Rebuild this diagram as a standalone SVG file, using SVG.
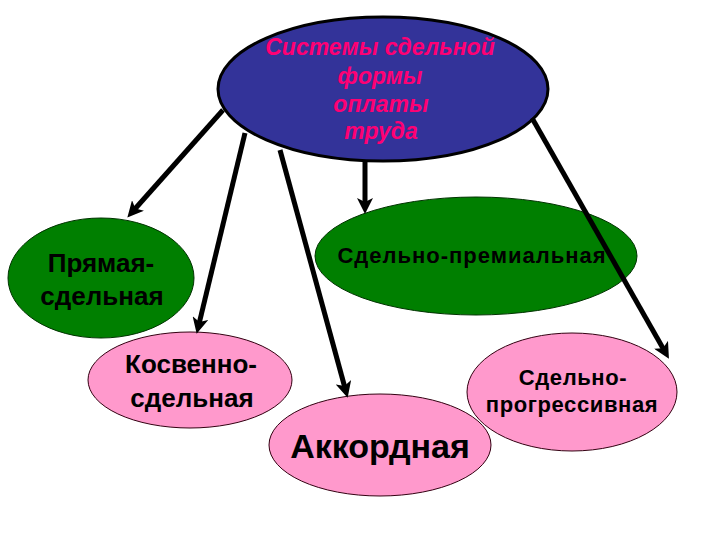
<svg xmlns="http://www.w3.org/2000/svg" width="720" height="540" viewBox="0 0 720 540">
<defs>
<style>
.t{font-family:"Liberation Sans",Arial,sans-serif;font-weight:bold;fill:#000;text-anchor:middle}
.top{font-family:"Liberation Sans",Arial,sans-serif;font-weight:bold;font-style:italic;fill:#ff0073;text-anchor:middle;font-size:23px}
.green{fill:#007f00;stroke:#003300;stroke-width:1}
.pink{fill:#ff99cc;stroke:#330011;stroke-width:1}
.conn{stroke:#000;stroke-width:5;fill:none;marker-end:url(#ah)}
</style>
<marker id="ah" markerUnits="userSpaceOnUse" markerWidth="16" markerHeight="16" refX="6" refY="8" orient="auto" viewBox="0 0 16 16">
<path d="M0,0 L16,8 L0,16 L4,8 Z" fill="#000"/>
</marker>
</defs>
<rect width="720" height="540" fill="#fff"/>
<g id="node-main">
<ellipse cx="383" cy="89" rx="165" ry="72" fill="#333399" stroke="#000" stroke-width="3"/>
<text class="top" x="380" y="55">Системы сдельной</text>
<text class="top" x="380" y="84">формы</text>
<text class="top" x="381" y="112">оплаты</text>
<text class="top" x="381" y="139">труда</text>
</g>
<g id="node-pryamaya">
<ellipse class="green" cx="101" cy="278" rx="93" ry="60"/>
<text class="t" x="101" y="272" font-size="26">Прямая-</text>
<text class="t" x="102" y="305" font-size="26">сдельная</text>
</g>
<g id="node-kosvenno">
<ellipse class="pink" cx="190" cy="380" rx="102" ry="48"/>
<text class="t" x="191" y="373" font-size="26">Косвенно-</text>
<text class="t" x="192" y="407" font-size="26">сдельная</text>
</g>
<g id="node-premialnaya">
<ellipse class="green" cx="476" cy="256" rx="161" ry="59"/>
<text class="t" x="472" y="263" font-size="22" letter-spacing="1">Сдельно-премиальная</text>
</g>
<g id="node-progressivnaya">
<ellipse class="pink" cx="572" cy="392" rx="105" ry="59"/>
<text class="t" x="573" y="385" font-size="22" letter-spacing="0.6">Сдельно-</text>
<text class="t" x="572" y="412" font-size="22" letter-spacing="0.6">прогрессивная</text>
</g>
<g id="node-akkordnaya">
<ellipse class="pink" cx="380" cy="445" rx="111" ry="51"/>
<text class="t" x="380" y="458" font-size="34">Аккордная</text>
</g>
<g id="connectors">
<path class="conn" d="M223,110 L134,210"/>
<path class="conn" d="M245,133 L199,324"/>
<path class="conn" d="M280,150 L345,388"/>
<path class="conn" d="M365,161 L365,204"/>
<path class="conn" d="M532,118 L664,350"/>
</g>
</svg>
